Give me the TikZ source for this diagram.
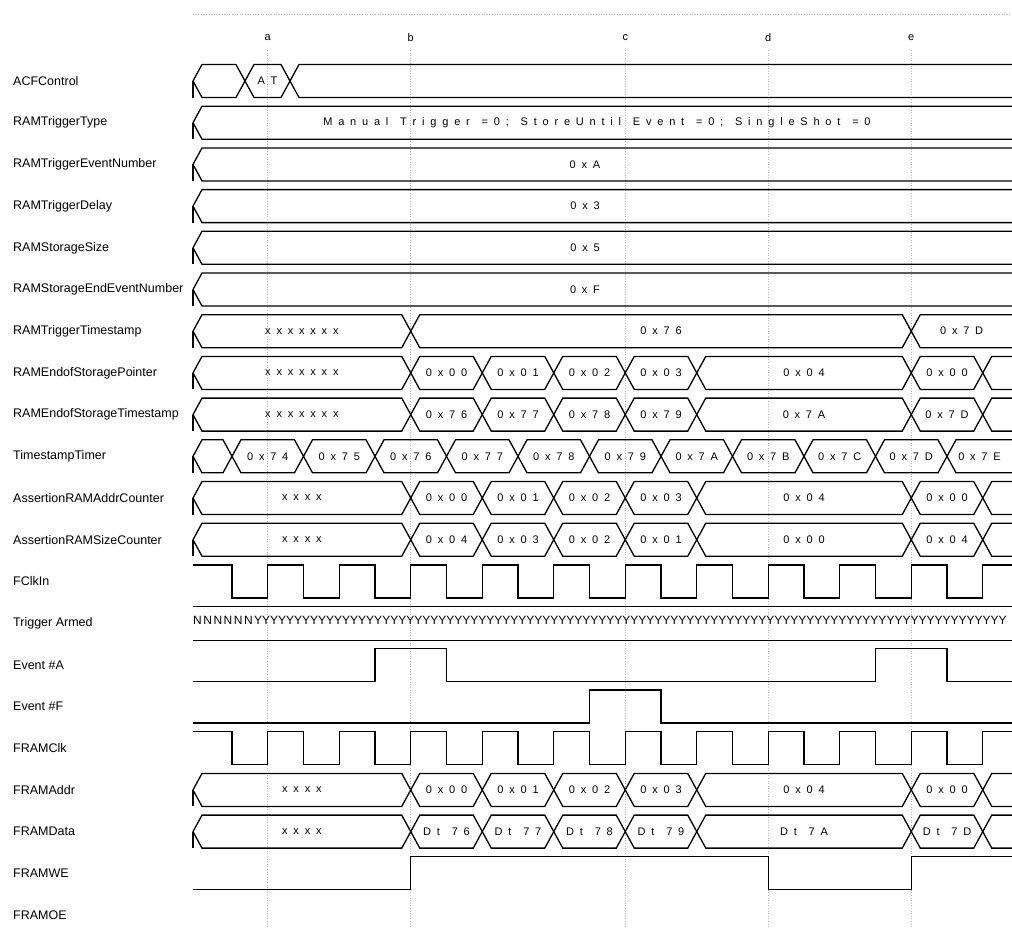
\documentclass[tikz,border=0pt]{standalone}
\usepackage{fontspec}
\setmainfont{Liberation Sans}
\newlength\lsp \setlength\lsp{5.8pt}
\makeatletter
\def\spaced#1{\spaced@#1\@nil}
\def\spaced@#1{\ifx#1\@nil\unkern\else\ifx#1~\kern6pt\else#1\kern\lsp\fi\expandafter\spaced@\fi}
\makeatother
\tikzset{
  wave/.style={line width=1.3pt, line join=miter},
  lbl/.style={anchor=west, inner sep=0pt, font=\fontsize{12.5}{13}\selectfont},
  val/.style={inner sep=0pt, font=\fontsize{11}{12}\selectfont},
  tmark/.style={inner sep=0pt, font=\fontsize{11}{12}\selectfont},
  guide/.style={gray!55, dotted, line width=0.6pt}
}
% #1 name, #2 y centre, #3 list a/b/text
\newcommand\busrow[3]{%
  \draw[wave] (193,#2) -- (193,#2+16.5);
  \foreach \a/\b/\t [count=\i] in {#3} {%
    \draw[wave] (\a,#2) -- (\a+9,#2-16.5) -- (\b-9,#2-16.5) -- (\b,#2)
       -- (\b-9,#2+16.5) -- (\a+9,#2+16.5) -- cycle;
    \node[val] (#1-\i) at ({(\a+min(\b,1012))/2},#2) {\expandafter\spaced\expandafter{\t}};
  }%
}
\begin{document}
\begin{tikzpicture}[x=1pt,y=-1pt]
\useasboundingbox (0,0) rectangle (1012,929);
\clip (0,0) rectangle (1012,929);
\fill[white] (0,0) rectangle (1012,929);

% top guides
\draw[guide] (193,14) -- (1012,14);
\foreach \x/\l in {267.75/a,410.75/b,625.25/c,768.25/d,911.25/e} {
  \draw[guide] (\x,50) -- (\x,929);
  \node[tmark] (m-\l) at (\x,38) {\l};
}

% labels
\foreach \t [count=\i from 0] in {ACFControl,RAMTriggerType,RAMTriggerEventNumber,RAMTriggerDelay,RAMStorageSize,RAMStorageEndEventNumber,RAMTriggerTimestamp,RAMEndofStoragePointer,RAMEndofStorageTimestamp,TimestampTimer,AssertionRAMAddrCounter,AssertionRAMSizeCounter,FClkIn,Trigger Armed,Event \#A,Event \#F,FRAMClk,FRAMAddr,FRAMData,FRAMWE,FRAMOE}
  \node[lbl] (L\i) at (13,{81+41.7*\i}) {\t};

% buses
\busrow{acf}{81}{193/245/{},245/290/AT,290/1040/{}}
\busrow{rtt}{122.7}{193/1040/{}}
\node[val] (rtt-v) at (597,122.7) {\spaced{Manual~Trigger~=0;~StoreUntil~Event~=0;~SingleShot~=0}};
\busrow{ten}{164.4}{193/1040/{}}
\node[val] (ten-v) at (585,164.4) {\spaced{0xA}};
\busrow{tde}{206.1}{193/1040/{}}
\node[val] (tde-v) at (585,206.1) {\spaced{0x3}};
\busrow{ssz}{247.8}{193/1040/{}}
\node[val] (ssz-v) at (585,247.8) {\spaced{0x5}};
\busrow{sen}{289.5}{193/1040/{}}
\node[val] (sen-v) at (585,289.5) {\spaced{0xF}};
\busrow{tts}{331.2}{193/410.75/xxxxxxx,410.75/911.25/0x76,911.25/1040/0x7D}
\busrow{esp}{372.9}{193/410.75/xxxxxxx,410.75/482.25/0x00,482.25/553.75/0x01,553.75/625.25/0x02,625.25/696.75/0x03,696.75/911.25/0x04,911.25/982.75/0x00,982.75/1040/{}}
\busrow{est}{414.6}{193/410.75/xxxxxxx,410.75/482.25/0x76,482.25/553.75/0x77,553.75/625.25/0x78,625.25/696.75/0x79,696.75/911.25/0x7A,911.25/982.75/0x7D,982.75/1040/{}}
\busrow{tst}{456.3}{193/232/{},232/303.5/0x74,303.5/375/0x75,375/446.5/0x76,446.5/518/0x77,518/589.5/0x78,589.5/661/0x79,661/732.5/0x7A,732.5/804/0x7B,804/875.5/0x7C,875.5/947/0x7D,947/1040/0x7E}
\busrow{rac}{498}{193/410.75/xxxx,410.75/482.25/0x00,482.25/553.75/0x01,553.75/625.25/0x02,625.25/696.75/0x03,696.75/911.25/0x04,911.25/982.75/0x00,982.75/1040/{}}
\busrow{rsc}{539.7}{193/410.75/xxxx,410.75/482.25/0x04,482.25/553.75/0x03,553.75/625.25/0x02,625.25/696.75/0x01,696.75/911.25/0x00,911.25/982.75/0x04,982.75/1040/{}}
\busrow{fad}{789.9}{193/410.75/xxxx,410.75/482.25/0x00,482.25/553.75/0x01,553.75/625.25/0x02,625.25/696.75/0x03,696.75/911.25/0x04,911.25/982.75/0x00,982.75/1040/{}}
\busrow{fda}{831.6}{193/410.75/xxxx,410.75/482.25/Dt~76,482.25/553.75/Dt~77,553.75/625.25/Dt~78,625.25/696.75/Dt~79,696.75/911.25/Dt~7A,911.25/982.75/Dt~7D,982.75/1040/{}}

% clocks
\foreach \yc in {581.4,748.2} {
  \draw[wave] (193,\yc-16.5)
    foreach \k in {0,...,10} { -- ({232+71.5*\k},\yc-16.5) -- ({232+71.5*\k},\yc+16.5)
      -- ({267.75+71.5*\k},\yc+16.5) -- ({267.75+71.5*\k},\yc-16.5) }
    -- (1012,\yc-16.5);
}

% trigger armed
\draw[wave] (193,606.6) -- (1012,606.6);
\draw[wave] (193,640.6) -- (1012,640.6);
\node[anchor=west, inner sep=0pt, font=\fontsize{12}{13}\selectfont] (ta) at (193,620.5)
  {N\kern1.5pt N\kern1.5pt N\kern1.5pt N\kern1.5pt N\kern1.5pt N\kern1.5pt YYYYYYYYYYYYYYYYYYYYYYYYYYYYYYYYYYYYYYYYYYYYYYYYYYYYYYYYYYYYYYYYYYYYYYYYYYYYYYYYYYYYYYYYYYYYYY};

% event A
\draw[wave] (193,681.3) -- (375,681.3) -- (375,648.3) -- (446.5,648.3) -- (446.5,681.3)
  -- (875.5,681.3) -- (875.5,648.3) -- (947,648.3) -- (947,681.3) -- (1012,681.3);
% event F
\draw[wave] (193,723) -- (589.5,723) -- (589.5,690) -- (661,690) -- (661,723) -- (1012,723);
% FRAMWE
\draw[wave] (193,889.8) -- (410.75,889.8) -- (410.75,856.8) -- (768.25,856.8) -- (768.25,889.8)
  -- (911.25,889.8) -- (911.25,856.8) -- (1012,856.8);
\end{tikzpicture}
\end{document}
